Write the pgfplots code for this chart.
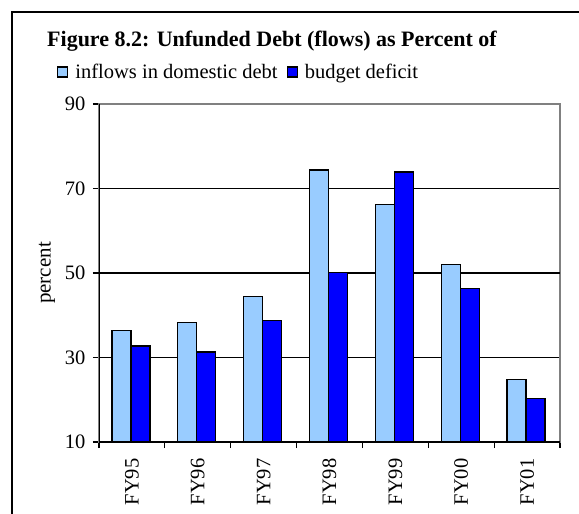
\documentclass[border=0pt]{standalone}
\usepackage{fontspec}
\setmainfont{Liberation Serif}
\usepackage{pgfplots}
\pgfplotsset{compat=1.18}
\definecolor{lightbar}{RGB}{153,204,255}
\definecolor{darkbar}{RGB}{0,0,255}
\definecolor{framegray}{RGB}{128,128,128}
\begin{document}
\begin{tikzpicture}
\useasboundingbox (0pt,0pt) rectangle (579pt,-514pt);
\draw[black, line width=1.6pt] (12pt,-520pt) -- (12pt,-12pt) -- (590pt,-12pt);
\node[anchor=west, font=\fontsize{22}{24}\selectfont\bfseries, inner sep=0pt] at (47pt,-41pt) {Figure 8.2: Unfunded Debt (flows) as Percent of};
\begin{axis}[
  at={(99pt,-442pt)}, anchor=south west,
  scale only axis, width=461pt, height=338pt,
  xmin=-0.5, xmax=6.5, ymin=10, ymax=90,
  ytick={10,30,50,70,90},
  xtick={-0.5,0.5,1.5,2.5,3.5,4.5,5.5,6.5},
  x tick label as interval,
  xticklabels={FY95,FY96,FY97,FY98,FY99,FY00,FY01},
  xticklabel style={rotate=90, anchor=east},
  xticklabel shift=7pt,
  yticklabel shift=4pt,
  /pgf/number format/assume math mode=true,
  tick label style={font=\fontsize{20.5}{22}\selectfont},
  label style={font=\fontsize{21}{22}\selectfont},
  ylabel={percent},
  ylabel style={at={(axis description cs:-0.113,0.5)}, anchor=center},
  tick pos=left, tick align=outside,
  major tick length=6pt,
  tick style={black, line width=1.2pt},
  axis line style={framegray, line width=1.4pt},
  ymajorgrids, grid style={black, line width=0.9pt},
  extra y ticks={50}, extra y tick labels={},
  extra y tick style={grid style={black, line width=1.6pt}},
  ybar=0pt, bar width=19pt,
  legend columns=2,
  legend style={draw=none, fill=none, at={(axis description cs:-0.091,1.095)}, anchor=west,
    font=\fontsize{20.5}{22}\selectfont, inner sep=0pt,
    /tikz/every even column/.append style={column sep=7pt}},
  legend image code/.code={\draw[#1, draw=black, line width=1.2pt] (0pt,-5pt) rectangle (10pt,5pt); \path (15pt,0pt);},
]
\addplot[fill=lightbar, draw=black, line width=1.2pt, bar shift=-10.5pt] coordinates {(0,36.3) (1,38.2) (2,44.5) (3,74.4) (4,66.3) (5,52.0) (6,24.7)};
\addplot[fill=darkbar, draw=black, line width=1.2pt, bar shift=8.5pt] coordinates {(0,32.7) (1,31.3) (2,38.7) (3,50.2) (4,73.9) (5,46.3) (6,20.3)};
\legend{inflows in domestic debt, budget deficit}
\draw[black, line width=1.4pt] (rel axis cs:0,1) -- (rel axis cs:0,0) -- (rel axis cs:1,0);
\end{axis}
\end{tikzpicture}
\end{document}
